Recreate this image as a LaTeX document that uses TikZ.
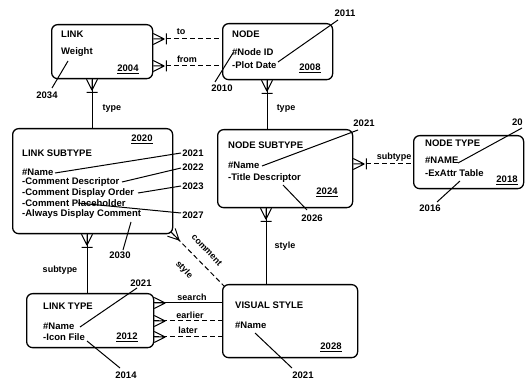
\documentclass[tikz,border=0pt]{standalone}
\usepackage{fontspec}
\setmainfont{Liberation Sans}
\usetikzlibrary{calc}
\begin{document}
\begin{tikzpicture}[x=1pt,y=-1pt,
  box/.style={draw, line width=1.3pt, rounded corners=6pt, anchor=north west, inner sep=0pt},
  txt/.style={font=\fontsize{9.5}{11}\selectfont\bfseries, inner sep=0pt, anchor=west},
  num/.style={font=\fontsize{9.5}{11}\selectfont\bfseries, inner sep=0pt},
  lbl/.style={font=\fontsize{9}{11}\selectfont\bfseries, inner sep=0pt},
  conn/.style={line width=1pt},
  dconn/.style={line width=1pt, dash pattern=on 5pt off 3pt},
  lead/.style={line width=1pt},
  crowfoot/.pic={\draw[conn] (0,-5.5) -- (11,0) (0,0) -- (11,0) (0,5.5) -- (11,0);},
  crowbarfoot/.pic={\draw[conn] (0,-5.5) -- (11,0) (0,0) -- (11,0) (0,5.5) -- (11,0) (13,-5.5) -- (13,5.5);}
]
\useasboundingbox (0,0) rectangle (525,379);

% ---------- boxes ----------
\node[box, minimum width=101pt, minimum height=54pt] (link) at (51,24) {};
\node[box, minimum width=110pt, minimum height=56pt] (node) at (222,23) {};
\node[box, minimum width=160pt, minimum height=105pt] (lsub) at (12,128) {};
\node[box, minimum width=135pt, minimum height=78pt] (nsub) at (217,129) {};
\node[box, minimum width=110pt, minimum height=53pt] (ntype) at (413,135) {};
\node[box, minimum width=127pt, minimum height=54pt] (ltype) at (26,293) {};
\node[box, minimum width=135pt, minimum height=73pt] (vis) at (222,284) {};

% ---------- LINK ----------
\node[txt] (linkT) at (61,34) {LINK};
\node[txt] (linkW) at (61,52) {Weight};
\node[num] (n2004) at (128,69) {\underline{2004}};
\node[num] (n2034) at (47,95) {2034};
\coordinate (a2034) at (52,88); \coordinate (b2034) at (68,61);
\draw[lead] (a2034) -- (b2034);

% ---------- NODE ----------
\node[txt] (nodeT) at (232,34) {NODE};
\node[txt] (nodeA) at (232,52) {\#Node ID};
\node[txt] (nodeB) at (232,65) {-Plot Date};
\node[num] (n2008) at (310,68) {\underline{2008}};
\node[num] (n2011) at (345,13) {2011};
\node[num] (n2010) at (222,88) {2010};
\coordinate (a2011) at (338,20); \coordinate (b2011) at (278,62);
\draw[lead] (a2011) -- (b2011);
\coordinate (a2010) at (215,82); \coordinate (b2010) at (233,53);
\draw[lead] (a2010) -- (b2010);

% ---------- LINK SUBTYPE ----------
\node[num] (n2020) at (142,139) {\underline{2020}};
\node[txt] (lsubT) at (22,153) {LINK SUBTYPE};
\node[txt] (lsubA) at (22,172) {\#Name};
\node[txt] (lsubB) at (22,182.5) {-Comment Descriptor};
\node[txt] (lsubC) at (22,193) {-Comment Display Order};
\node[txt] (lsubD) at (22,203.5) {-Comment Placeholder};
\node[txt] (lsubE) at (22,214) {-Always Display Comment};
\node[num] (n2021a) at (193,153) {2021};
\node[num] (n2022) at (193,167) {2022};
\node[num] (n2023) at (193,186) {2023};
\node[num] (n2027) at (193,215) {2027};
\node[num] (n2030) at (120,255) {2030};
\coordinate (a2021a) at (181,153); \coordinate (b2021a) at (55,173);
\draw[lead] (a2021a) -- (b2021a);
\coordinate (a2022) at (181,168); \coordinate (b2022) at (122,182);
\draw[lead] (a2022) -- (b2022);
\coordinate (a2023) at (181,186); \coordinate (b2023) at (138,193);
\draw[lead] (a2023) -- (b2023);
\coordinate (a2027) at (181,213); \coordinate (b2027) at (78,203);
\draw[lead] (a2027) -- (b2027);
\coordinate (a2030) at (123,250); \coordinate (b2030) at (131,222);
\draw[lead] (a2030) -- (b2030);

% ---------- NODE SUBTYPE ----------
\node[txt] (nsubT) at (228,145) {NODE SUBTYPE};
\node[txt] (nsubA) at (228,165) {\#Name};
\node[txt] (nsubB) at (228,178) {-Title Descriptor};
\node[num] (n2024) at (327,192) {\underline{2024}};
\node[num] (n2021b) at (364,123) {2021};
\node[num] (n2026) at (312,218) {2026};
\coordinate (a2021b) at (358,130); \coordinate (b2021b) at (262,166);
\draw[lead] (a2021b) -- (b2021b);
\coordinate (a2026) at (307,210); \coordinate (b2026) at (283,185);
\draw[lead] (a2026) -- (b2026);

% ---------- NODE TYPE ----------
\node[txt] (ntypeT) at (425,143) {NODE TYPE};
\node[txt] (ntypeA) at (425,160) {\#NAME};
\node[txt] (ntypeB) at (425,173) {-ExAttr Table};
\node[num] (n2018) at (507,180) {\underline{2018}};
\node[num, anchor=west] (n20) at (512,122) {20};
\node[num] (n2016) at (430,208) {2016};
\coordinate (a20) at (522,128); \coordinate (b20) at (458,163);
\draw[lead] (a20) -- (b20);
\coordinate (a2016) at (437,202); \coordinate (b2016) at (460,181);
\draw[lead] (a2016) -- (b2016);

% ---------- LINK TYPE ----------
\node[txt] (ltypeT) at (43,306) {LINK TYPE};
\node[txt] (ltypeA) at (43,326) {\#Name};
\node[txt] (ltypeB) at (43,337) {-Icon File};
\node[num] (n2012) at (127,337) {\underline{2012}};
\node[num] (n2021c) at (141,283) {2021};
\node[num] (n2014) at (126,375) {2014};
\coordinate (a2021c) at (137,288); \coordinate (b2021c) at (80,327);
\draw[lead] (a2021c) -- (b2021c);
\coordinate (a2014) at (120,368); \coordinate (b2014) at (87,341);
\draw[lead] (a2014) -- (b2014);

% ---------- VISUAL STYLE ----------
\node[txt] (visT) at (235,305) {VISUAL STYLE};
\node[txt] (visA) at (235,325) {\#Name};
\node[num] (n2028) at (331,347) {\underline{2028}};
\node[num] (n2021d) at (303,375) {2021};
\coordinate (a2021d) at (292,368); \coordinate (b2021d) at (255,333);
\draw[lead] (a2021d) -- (b2021d);

% ---------- connectors ----------
\coordinate (yto) at (0,39);
\coordinate (yfrom) at (0,66);
\pic at (link.east |- yto) {crowbarfoot};
\draw[dconn] ($(link.east |- yto)+(13,0)$) -- (node.west |- yto);
\pic at (link.east |- yfrom) {crowbarfoot};
\draw[dconn] ($(link.east |- yfrom)+(13,0)$) -- (node.west |- yfrom);
\node[lbl] (lto) at (181,32) {to};
\node[lbl] (lfrom) at (187,59) {from};

\coordinate (xt1) at (92,0);
\pic[rotate=-90] at (link.south -| xt1) {crowbarfoot};
\draw[conn] (link.south -| xt1) -- (lsub.north -| xt1);
\node[lbl] (ltype1) at (112,109) {type};

\coordinate (xt2) at (267,0);
\pic[rotate=-90] at (node.south -| xt2) {crowbarfoot};
\draw[conn] (node.south -| xt2) -- (nsub.north -| xt2);
\node[lbl] (ltype2) at (286,109) {type};

\coordinate (ysub) at (0,164);
\pic at (nsub.east |- ysub) {crowbarfoot};
\draw[dconn] ($(nsub.east |- ysub)+(13,0)$) -- (ntype.west |- ysub);
\node[lbl] (lsubtype1) at (394,157) {subtype};

\coordinate (xs1) at (87,0);
\pic[rotate=-90] at (lsub.south -| xs1) {crowbarfoot};
\draw[conn] (lsub.south -| xs1) -- (ltype.north -| xs1);
\node[lbl] (lsubtype2) at (60,270) {subtype};

\coordinate (xst) at (266,0);
\pic[rotate=-90] at (nsub.south -| xst) {crowbarfoot};
\draw[conn] (nsub.south -| xst) -- (vis.north -| xst);
\node[lbl] (lstyle) at (285,246) {style};

\coordinate (cs1) at ($(lsub.south east)+(-2,-2)$);
\coordinate (cs2) at ($(vis.north west)+(2,2)$);
\pic[rotate=-45] at (cs1) {crowfoot};
\draw[dconn] (cs1) -- (cs2);
\node[lbl, rotate=-47] (lcomment) at (207,250) {comment};
\node[lbl, rotate=-47] (lcstyle) at (184,270) {style};

\coordinate (ysearch) at (0,303);
\coordinate (yearlier) at (0,321);
\coordinate (ylater) at (0,337);
\pic at (ltype.east |- ysearch) {crowfoot};
\draw[conn] (ltype.east |- ysearch) -- (vis.west |- ysearch);
\pic at (ltype.east |- yearlier) {crowfoot};
\draw[dconn] (ltype.east |- yearlier) -- (vis.west |- yearlier);
\pic at (ltype.east |- ylater) {crowfoot};
\draw[dconn] (ltype.east |- ylater) -- (vis.west |- ylater);
\node[lbl] (lsearch) at (192,297) {search};
\node[lbl] (learlier) at (190,315) {earlier};
\node[lbl] (llater) at (188,330) {later};
\end{tikzpicture}
\end{document}
